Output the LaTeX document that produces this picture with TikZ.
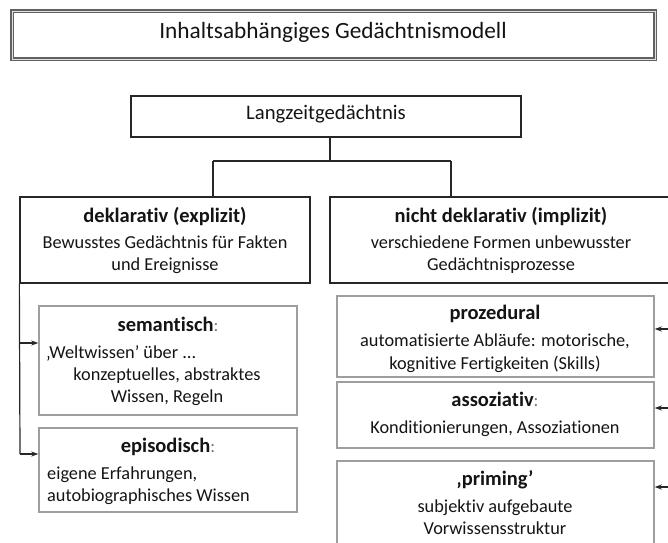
\documentclass[tikz,border=0pt]{standalone}
\usepackage{fontspec}
\setmainfont{Carlito}[Ligatures=NoCommon]
\usetikzlibrary{arrows.meta}
\begin{document}
\begin{tikzpicture}[x=1pt,y=-1pt,
  mainbox/.style={draw=black!85, line width=1.3pt, inner sep=0},
  subbox/.style={draw=black!38, line width=1.4pt, inner sep=0},
  txt/.style={inner sep=0, anchor=base, text=black!92, font=\fontsize{18.3}{22}\selectfont},
  ltxt/.style={txt, anchor=base west},
  head/.style={txt, font=\fontsize{20.5}{24}\selectfont\bfseries},
  conn/.style={draw=black!85, line width=1.2pt},
  arr/.style={conn, -{Stealth[length=7pt,width=5pt]}}
]
\useasboundingbox (0,0) rectangle (668,542);
\clip (0,0) rectangle (668,542);
\newcommand{\gcolon}{\textcolor{black!55}{\mdseries\fontsize{18}{22}\selectfont :}}

% boxes
\node[draw=black!62, line width=1.1pt, double=black!12, double distance=0.9pt, minimum width=643pt, minimum height=48pt] (title) at (333.5,35) {};
\node[mainbox, minimum width=390pt, minimum height=41pt] (lang) at (326,116.5) {};
\node[mainbox, minimum width=290pt, minimum height=86pt] (decl) at (165,240) {};
\node[mainbox, minimum width=342pt, minimum height=86pt] (nd) at (501,240) {};
\node[subbox, minimum width=258pt, minimum height=109pt] (sem) at (168,360.5) {};
\node[subbox, minimum width=258pt, minimum height=84pt] (epi) at (168,470) {};
\node[subbox, minimum width=317pt, minimum height=81pt] (proz) at (495.5,336.5) {};
\node[subbox, minimum width=317pt, minimum height=66pt] (assoz) at (495.5,415) {};
\node[subbox, minimum width=317pt, minimum height=109pt] (prim) at (495.5,515.5) {};

% texts
\node[txt, font=\fontsize{23.3}{27}\selectfont] (ttitle) at (333,38) {Inhaltsabhängiges Gedächtnismodell};
\node[txt, font=\fontsize{20.7}{24}\selectfont] (tlang) at (326,119) {Langzeitgedächtnis};

\node[head] (tdecl1) at (165,222) {deklarativ (explizit)};
\node[txt] (tdecl2) at (165,248) {Bewusstes Gedächtnis für Fakten};
\node[txt] (tdecl3) at (165,270) {und Ereignisse};

\node[head] (tnd1) at (501,222) {nicht deklarativ (implizit)};
\node[txt] (tnd2) at (501,248) {verschiedene Formen unbewusster};
\node[txt] (tnd3) at (501,270) {Gedächtnisprozesse};

\node[head] (tsem1) at (168,331) {semantisch\gcolon};
\node[ltxt] (tsem2) at (46,358) {‚Weltwissen’ über ...};
\node[txt] (tsem3) at (167,380) {konzeptuelles, abstraktes};
\node[txt] (tsem4) at (167,402) {Wissen, Regeln};

\node[head] (tepi1) at (168,452) {episodisch\gcolon};
\node[ltxt] (tepi2) at (47,479) {eigene Erfahrungen,};
\node[ltxt] (tepi3) at (47,501) {autobiographisches Wissen};

\node[head] (tproz1) at (495,319) {prozedural};
\node[txt] (tproz2) at (495,346) {automatisierte Abläufe: motorische,};
\node[txt] (tproz3) at (495,369) {kognitive Fertigkeiten (Skills)};

\node[head] (tassoz1) at (495,406) {assoziativ\gcolon};
\node[txt] (tassoz2) at (495,433) {Konditionierungen, Assoziationen};

\node[head] (tprim1) at (495,485) {‚priming’};
\node[txt] (tprim2) at (495,512) {subjektiv aufgebaute};
\node[txt] (tprim3) at (495,534) {Vorwissensstruktur};

% connectors
\coordinate (j) at (330,161);
\coordinate (jl) at (213,161);
\coordinate (jr) at (451,161);
\draw[conn] (j |- lang.south) -- (j);
\draw[conn] (jl) -- (jr);
\draw[conn] (jl) -- (jl |- decl.north);
\draw[conn] (jr) -- (jr |- nd.north);

\coordinate (sa) at (20,343);
\coordinate (ea) at (20,454);
\draw[conn] (decl.south west) -- (ea);
\draw[arr] (sa) -- (sa -| sem.west);
\draw[arr] (ea) -- (ea -| epi.west);

\coordinate (pa) at (670,329);
\coordinate (aa) at (670,408);
\coordinate (ra) at (670,487);
\draw[arr] (pa) -- (pa -| proz.east);
\draw[arr] (aa) -- (aa -| assoz.east);
\draw[arr] (ra) -- (ra -| prim.east);
\end{tikzpicture}
\end{document}
